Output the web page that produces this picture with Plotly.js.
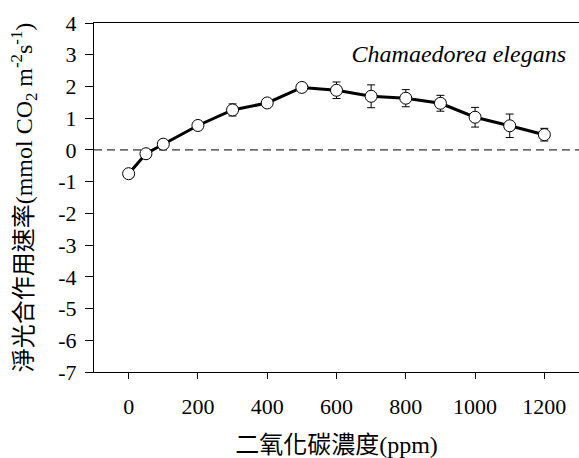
<!DOCTYPE html>
<html>
<head>
<meta charset="utf-8">
<script src="https://cdn.plot.ly/plotly-3.0.1.min.js"></script>
<style>html,body{margin:0;padding:0;background:#fff;}
#wrap{position:relative;width:579px;height:458px;}
#chart{width:579px;height:458px;}
#species{position:absolute;right:13px;top:42px;line-height:24px;font-family:'Liberation Serif','Times New Roman',serif;font-style:italic;font-size:24px;color:#000;white-space:nowrap;}</style>
</head>
<body>
<div id="wrap">
<div id="chart"></div>
<div id="species"></div>
</div>
<script>
const co2 = [0, 50, 100, 200, 300, 400, 500, 600, 700, 800, 900, 1000, 1100, 1200];
const netRate = [-0.75, -0.12, 0.18, 0.77, 1.26, 1.48, 1.97, 1.88, 1.69, 1.63, 1.47, 1.03, 0.76, 0.48];
const rateErr = [0.04, 0.04, 0.04, 0.05, 0.19, 0.05, 0.06, 0.26, 0.36, 0.27, 0.25, 0.31, 0.37, 0.2];
const xTicks = [0, 200, 400, 600, 800, 1000, 1200];
const yTicks = [-7, -6, -5, -4, -3, -2, -1, 0, 1, 2, 3, 4];
const speciesLabel = 'Chamaedorea elegans';
const xTitle = '二氧化碳濃度(ppm)';
const yTitle = '淨光合作用速率(mmol CO<sub>2</sub> m<sup>-2</sup>s<sup>-1</sup>)';

const FONT = 'Liberation Serif, Noto Sans CJK TC, serif';

document.getElementById('species').textContent = speciesLabel;

const trace = {
  x: co2, y: netRate, type: 'scatter', mode: 'lines+markers',
  line: {color: '#000', width: 3},
  marker: {symbol: 'circle', size: 12, color: '#fff', line: {color: '#000', width: 1}},
  error_y: {type: 'data', array: rateErr, visible: true, color: '#000', thickness: 1, width: 4},
  hoverinfo: 'skip'
};

const layout = {
  width: 579, height: 458,
  margin: {l: 94, r: 0, t: 23, b: 86},
  paper_bgcolor: 'rgba(0,0,0,0)', plot_bgcolor: 'rgba(0,0,0,0)',
  showlegend: false,
  font: {family: FONT, size: 22, color: '#000'},
  xaxis: {
    range: [-100, 1300], tickvals: xTicks, ticktext: xTicks.map(String),
    ticks: 'outside', ticklen: 6, tickwidth: 1, tickcolor: '#000',
    showline: true, linecolor: '#000', linewidth: 1, mirror: true,
    showgrid: false, zeroline: false,
    ticklabelstandoff: 9,
    tickfont: {family: FONT, size: 22, color: '#000'},
    title: {text: xTitle, font: {family: FONT, size: 24, color: '#000'}, standoff: 22},
    automargin: false
  },
  yaxis: {
    range: [-7, 4], tickvals: yTicks, ticktext: yTicks.map(String),
    ticks: 'outside', ticklen: 8, tickwidth: 1, tickcolor: '#000',
    showline: true, linecolor: '#000', linewidth: 1, mirror: false,
    showgrid: false, zeroline: false,
    ticklabelstandoff: 4,
    tickfont: {family: FONT, size: 22, color: '#000'},
    title: {text: yTitle, font: {family: FONT, size: 24, color: '#000'}, standoff: 18},
    automargin: false
  },
  shapes: [{
    type: 'line', xref: 'paper', x0: 0, x1: 1, yref: 'y', y0: 0, y1: 0,
    line: {color: '#000', width: 1, dash: '8px,5px'}, layer: 'below'
  }]
};

Plotly.newPlot('chart', [trace], layout, {staticPlot: true, displayModeBar: false}).catch(() => {});
</script>
</body>
</html>
